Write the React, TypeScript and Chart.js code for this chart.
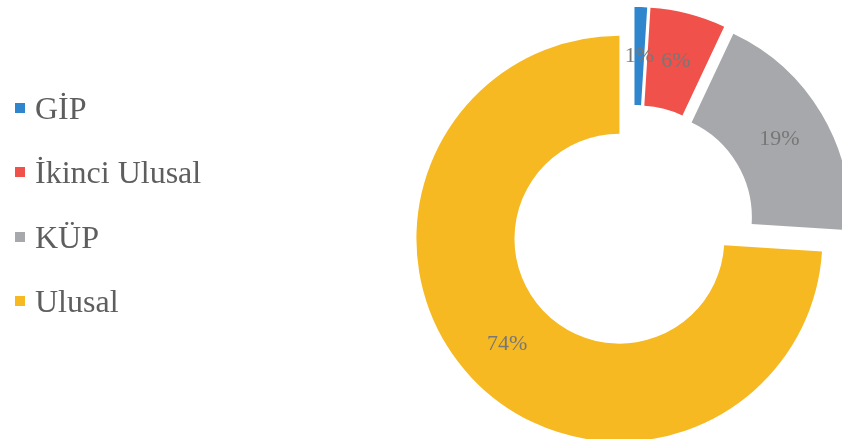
import React, { useEffect, useRef } from "react";
import { Chart, registerables } from "chart.js";

Chart.register(...registerables);

const categories = ["GİP", "İkinci Ulusal", "KÜP", "Ulusal"];
const shares = [1, 6, 19, 74];
const colors = ["#2F86CC", "#F0514A", "#A6A8AB", "#F6B922"];
// how far each slice is pulled out from the centre, in px
const sliceOffsets = [15, 15, 15, 20];

const explodeSlices = {
  id: "explodeSlices",
  afterDatasetUpdate(chart: any, args: any) {
    const meta = args.meta;
    meta.data.forEach((arc: any, i: number) => {
      const half = (arc.startAngle + arc.endAngle) / 2;
      const t = sliceOffsets[i] || 0;
      arc.x += Math.cos(half) * t;
      arc.y += Math.sin(half) * t;
    });
  },
};

const sliceLabels = {
  id: "sliceLabels",
  afterDatasetsDraw(chart: any) {
    const ctx = chart.ctx;
    const meta = chart.getDatasetMeta(0);
    ctx.save();
    ctx.font = '22px "Liberation Serif"';
    ctx.fillStyle = "#777777";
    ctx.textAlign = "center";
    ctx.textBaseline = "middle";
    meta.data.forEach((arc: any, i: number) => {
      const half = (arc.startAngle + arc.endAngle) / 2;
      const r = (arc.innerRadius + arc.outerRadius) / 2;
      ctx.fillText(shares[i] + "%", arc.x + Math.cos(half) * r, arc.y + Math.sin(half) * r);
    });
    ctx.restore();
  },
};

export default function App() {
  const ref = useRef<HTMLCanvasElement | null>(null);
  useEffect(() => {
    if (!ref.current) return;
    const chart = new Chart(ref.current, {
      type: "doughnut",
      data: {
        labels: categories,
        datasets: [
          {
            data: shares,
            backgroundColor: colors,
            borderWidth: 0,
          },
        ],
      },
      options: {
        animation: false,
        responsive: true,
        maintainAspectRatio: false,
        events: [],
        radius: 203,
        cutout: "51.7%",
        layout: { padding: { left: 430, right: 4, top: 11, bottom: 0 } },
        plugins: { legend: { display: false }, tooltip: { enabled: false } },
      } as any,
      plugins: [explodeSlices, sliceLabels],
    });
    return () => chart.destroy();
  }, []);

  return (
    <div style={{ position: "absolute", left: 0, top: 0, width: 842, height: 439, overflow: "hidden", background: "#fff" }}>
      <canvas ref={ref} />
      {categories.map((c, i) => {
        const baseline = 119 + i * 64.4;
        return (
          <React.Fragment key={c}>
            <div
              style={{
                position: "absolute",
                left: 15,
                top: baseline - 16,
                width: 10,
                height: 10,
                background: colors[i],
              }}
            />
            <div
              style={{
                position: "absolute",
                left: 35,
                top: baseline - 27,
                fontFamily: '"Liberation Serif", serif',
                fontSize: 32,
                lineHeight: "32px",
                color: "#5e5e5e",
                whiteSpace: "nowrap",
              }}
            >
              {c}
            </div>
          </React.Fragment>
        );
      })}
    </div>
  );
}
